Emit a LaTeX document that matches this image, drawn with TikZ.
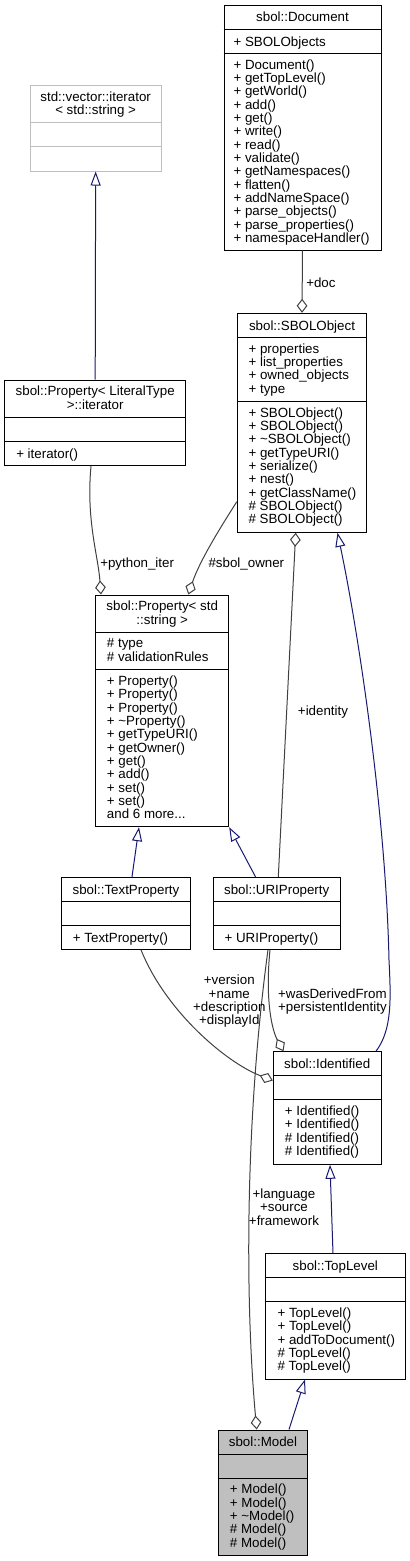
\documentclass[tikz,border=0pt]{standalone}
\usepackage{fontspec}
\setmainfont{Liberation Sans}
\usetikzlibrary{arrows.meta,fit}
\definecolor{edgegray}{HTML}{404040}
\definecolor{inhblue}{HTML}{191970}
\definecolor{boxgray}{HTML}{BFBFBF}
\tikzset{
	cls/.style={draw=black, line width=0.75pt, inner sep=0pt},
	ttl/.style={anchor=north, inner sep=0pt, align=center, font=\fontsize{10}{10}\selectfont, execute at begin node={\rule{0pt}{8pt}}},
	mbr/.style={ttl, anchor=north west, align=left},
	lbl/.style={ttl, anchor=north west},
	inh/.style={draw=inhblue, line width=0.75pt, -{Triangle[open,length=10.5pt,width=7.5pt]}},
	agg/.style={draw=edgegray, line width=0.75pt, -{Diamond[open,length=10.5pt,width=8pt]}}
}
\begin{document}
\begin{tikzpicture}[x=0.75pt,y=-0.75pt]
	\useasboundingbox (0,0) rectangle (410,1561);
	\node[cls, fit={(224,5) (381,250)}] (doc) {};
	\draw[line width=0.75pt] (doc.west |- 0,29.3) -- (doc.east |- 0,29.3) (doc.west |- 0,53.3) -- (doc.east |- 0,53.3);
	\node[ttl] at (302.5,11) (doc-t) {sbol::Document};
	\node[mbr] at (233.3,35.3) (doc-a) {+ SBOLObjects};
	\node[mbr] at (233.3,59.3) (doc-m) {+ Document()\\+ getTopLevel()\\+ getWorld()\\+ add()\\+ get()\\+ write()\\+ read()\\+ validate()\\+ getNamespaces()\\+ flatten()\\+ addNameSpace()\\+ parse\_objects()\\+ parse\_properties()\\+ namespaceHandler()};
	\node[cls, draw=boxgray, fit={(30,85.3) (161.3,171)}] (vecit) {};
	\draw[boxgray, line width=0.75pt] (vecit.west |- 0,122.3) -- (vecit.east |- 0,122.3) (vecit.west |- 0,146.3) -- (vecit.east |- 0,146.3);
	\node[ttl] at (95.65,91.3) (vecit-t) {std::vector::iterator\\< std::string >};
	\node[cls, fit={(4.7,380) (185.7,465.7)}] (propit) {};
	\draw[line width=0.75pt] (propit.west |- 0,417.3) -- (propit.east |- 0,417.3) (propit.west |- 0,441.3) -- (propit.east |- 0,441.3);
	\node[ttl] at (95.2,386) (propit-t) {sbol::Property< LiteralType\\>::iterator};
	\node[mbr] at (16,447.3) (propit-m) {+ iterator()};
	\node[cls, fit={(237.3,313.3) (366.7,532.3)}] (sbolobj) {};
	\draw[line width=0.75pt] (sbolobj.west |- 0,337.3) -- (sbolobj.east |- 0,337.3) (sbolobj.west |- 0,401.3) -- (sbolobj.east |- 0,401.3);
	\node[ttl] at (302,319.3) (sbolobj-t) {sbol::SBOLObject};
	\node[mbr] at (248.3,343.3) (sbolobj-a) {+ properties\\+ list\_properties\\+ owned\_objects\\+ type};
	\node[mbr] at (248.3,407.3) (sbolobj-m) {+ SBOLObject()\\+ SBOLObject()\\+ \textasciitilde SBOLObject()\\+ getTypeURI()\\+ serialize()\\+ nest()\\+ getClassName()\\\# SBOLObject()\\\# SBOLObject()};
	\node[cls, fit={(95.7,595) (228.7,826.7)}] (propstr) {};
	\draw[line width=0.75pt] (propstr.west |- 0,632.3) -- (propstr.east |- 0,632.3) (propstr.west |- 0,669.6) -- (propstr.east |- 0,669.6);
	\node[ttl] at (162.2,601) (propstr-t) {sbol::Property< std\\::string >};
	\node[mbr] at (106.7,638.3) (propstr-a) {\# type\\\# validationRules};
	\node[mbr] at (106.7,675.6) (propstr-m) {+ Property()\\+ Property()\\+ Property()\\+ \textasciitilde Property()\\+ getTypeURI()\\+ getOwner()\\+ get()\\+ add()\\+ set()\\+ set()\\and 6 more...};
	\node[cls, fit={(61.7,877.3) (190.3,949.3)}] (txtprop) {};
	\draw[line width=0.75pt] (txtprop.west |- 0,901.3) -- (txtprop.east |- 0,901.3) (txtprop.west |- 0,925.3) -- (txtprop.east |- 0,925.3);
	\node[ttl] at (126,883.3) (txtprop-t) {sbol::TextProperty};
	\node[mbr] at (72.7,931.3) (txtprop-m) {+ TextProperty()};
	\node[cls, fit={(213.3,877.3) (340,949.3)}] (uriprop) {};
	\draw[line width=0.75pt] (uriprop.west |- 0,901.3) -- (uriprop.east |- 0,901.3) (uriprop.west |- 0,925.3) -- (uriprop.east |- 0,925.3);
	\node[ttl] at (276.7,883.3) (uriprop-t) {sbol::URIProperty};
	\node[mbr] at (224.3,931.3) (uriprop-m) {+ URIProperty()};
	\node[cls, fit={(273.3,1051.7) (381,1164.3)}] (ident) {};
	\draw[line width=0.75pt] (ident.west |- 0,1075.7) -- (ident.east |- 0,1075.7) (ident.west |- 0,1099.7) -- (ident.east |- 0,1099.7);
	\node[ttl] at (327.2,1057.7) (ident-t) {sbol::Identified};
	\node[mbr] at (284.7,1105.7) (ident-m) {+ Identified()\\+ Identified()\\\# Identified()\\\# Identified()};
	\node[cls, fit={(265.7,1253.7) (405,1379)}] (toplvl) {};
	\draw[line width=0.75pt] (toplvl.west |- 0,1277.7) -- (toplvl.east |- 0,1277.7) (toplvl.west |- 0,1301.7) -- (toplvl.east |- 0,1301.7);
	\node[ttl] at (335.3,1259.7) (toplvl-t) {sbol::TopLevel};
	\node[mbr] at (277.3,1307.7) (toplvl-m) {+ TopLevel()\\+ TopLevel()\\+ addToDocument()\\\# TopLevel()\\\# TopLevel()};
	\node[cls, fill=boxgray, fit={(218.3,1430) (307.7,1555.3)}] (model) {};
	\draw[line width=0.75pt] (model.west |- 0,1454) -- (model.east |- 0,1454) (model.west |- 0,1478) -- (model.east |- 0,1478);
	\node[ttl] at (263,1436) (model-t) {sbol::Model};
	\node[mbr] at (229.7,1484) (model-m) {+ Model()\\+ Model()\\+ \textasciitilde Model()\\\# Model()\\\# Model()};
	\draw[inh] (propit.north) -- (vecit.south);
	\draw[agg] (doc.south) -- (sbolobj.north);
	\draw[agg] (propit.south -| 91,0) .. controls (86,520) and (98,555) .. (propstr.north -| 101,0);
	\draw[agg] (sbolobj.west |- 0,501.7) .. controls (222,525) and (200,560) .. (propstr.north -| 188.3,0);
	\draw[agg] (uriprop.north -| 278.3,0) -- (sbolobj.south -| 295.7,0);
	\draw[inh] (ident.north -| 376,0) .. controls (392,1030) and (391,1000) .. (389,960) .. controls (386,820) and (360,640) .. (sbolobj.south -| 337.5,0);
	\draw[inh] (txtprop.north -| 132,0) -- (propstr.south -| 139,0);
	\draw[inh] (uriprop.north -| 255.5,0) -- (propstr.south east);
	\draw[agg] (txtprop.south -| 141,0) .. controls (165,1010) and (225,1062) .. (ident.west |- 0,1080.5);
	\draw[agg] (uriprop.south -| 270,0) .. controls (265,1000) and (272,1030) .. (ident.north -| 283.5,0);
	\draw[agg] (uriprop.south -| 268,0) .. controls (245,1120) and (245,1300) .. (model.north -| 256.7,0);
	\draw[inh] (toplvl.north -| 333,0) -- (ident.south -| 330,0);
	\draw[inh] (model.north -| 289,0) -- (toplvl.south -| 305,0);
	\node[lbl] at (306,276.6) (doc-l) {+doc};
	\node[lbl] at (100,557) (iter-l) {+python\_iter};
	\node[lbl] at (208.3,557) (owner-l) {\#sbol\_owner};
	\node[lbl] at (297.7,704.3) (identity-l) {+identity};
	\node[lbl, anchor=north, align=center] at (229.3,975) (text-l) {+version\\+name\\+description\\+displayId};
	\node[lbl, anchor=north, align=center] at (332.4,988.3) (uri-l) {+wasDerivedFrom\\+persistentIdentity};
	\node[lbl, anchor=north, align=center] at (284,1188.6) (model-l) {+language\\+source\\+framework};
\end{tikzpicture}
\end{document}
